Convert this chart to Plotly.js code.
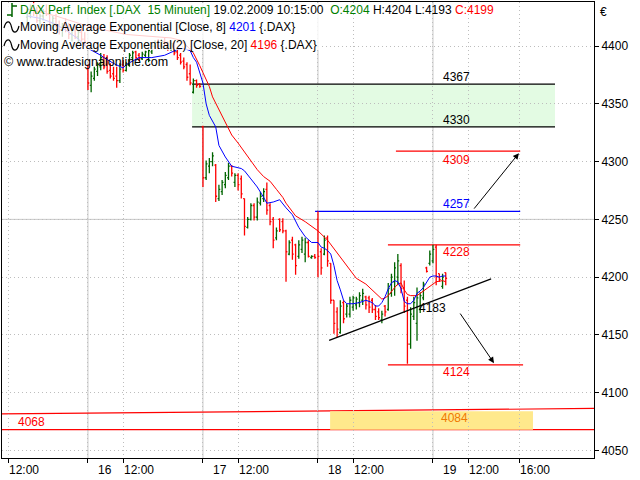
<!DOCTYPE html>
<html><head><meta charset="utf-8">
<script src="https://cdn.plot.ly/plotly-3.0.1.min.js"></script>
<style>html,body{margin:0;padding:0;background:#fff;}#chart{width:640px;height:480px;}</style>
</head><body><div id="chart"></div>
<script>
// ---- DATA: DAX Perf. Index, 15-minute bars, 13.02.2009 13:30 ... 19.02.2009 10:15 ----
const barOpen = [
 4425,4428,4432,4430,4422,4426,4430,4428,4420,4424,4418,4414,4418,4416,4410,4414,4408,4412,4406,
 4380,4366,4372,4378,4382,4390,4384,4379,4376,4374,4370,4384,4379,4384,4390,4395,4392,4389,4392,4390,4395,4400,4403,4400,4404,4402,4398,4402,4395,4392,4387,4384,4376,4360,4370,4367,
 4330,4286,4296,4300,4297,4268,4274,4280,4286,4296,4282,4288,4285,4268,4243,4250,4262,4252,4264,4268,4276,4262,4250,4234,4250,4248,4240,4220,4232,4228,4218,4224,4220,4230,4217,4218,
 4250,4222,4220,4234,4212,4180,4170,4152,4178,4168,4168,4174,4176,4178,4180,4183,4182,4180,4172,4170,4163,4175,4172,4186,4196,4200,4210,4191,4180,4142,4166,4160,4172,4182,4208,4212,
 4214,4226,4203,4192,4204];
const barHigh = [
 4432,4436,4438,4434,4428,4432,4436,4430,4426,4428,4422,4420,4424,4420,4416,4418,4414,4416,4412,
 4384,4378,4382,4386,4394,4393,4392,4385,4382,4382,4385,4388,4386,4394,4396,4396,4394,4395,4396,4398,4402,4405,4406,4406,4407,4404,4404,4404,4398,4394,4390,4386,4384,4372,4371,4368,
 4331,4301,4303,4308,4298,4280,4284,4291,4299,4297,4290,4290,4288,4268,4252,4264,4264,4269,4274,4277,4282,4264,4252,4243,4251,4251,4241,4232,4235,4229,4232,4235,4234,4232,4219,4220,
 4257,4225,4236,4236,4212,4180,4174,4180,4180,4177,4183,4184,4183,4187,4190,4184,4184,4182,4176,4173,4171,4176,4195,4203,4213,4220,4212,4197,4183,4174,4183,4191,4187,4196,4209,4223,
 4228,4228,4203,4203,4204];
const barLow = [
 4418,4424,4426,4420,4416,4422,4426,4418,4414,4416,4410,4408,4412,4406,4404,4406,4402,4404,4400,
 4362,4360,4370,4374,4379,4380,4376,4372,4370,4364,4368,4377,4378,4382,4388,4389,4387,4388,4390,4386,4393,4398,4398,4399,4400,4396,4396,4392,4388,4384,4380,4370,4366,4359,4364,4364,
 4278,4284,4290,4296,4265,4266,4271,4277,4284,4287,4278,4275,4268,4236,4242,4249,4249,4249,4262,4265,4254,4245,4225,4232,4239,4238,4196,4219,4215,4202,4216,4221,4213,4217,4216,4216,
 4200,4202,4219,4209,4177,4151,4148,4151,4160,4165,4165,4171,4172,4174,4176,4172,4169,4169,4163,4163,4160,4166,4171,4183,4184,4193,4186,4169,4125,4138,4163,4145,4169,4180,4204,4210,
 4212,4193,4196,4190,4193];
const barClose = [
 4428,4432,4430,4422,4426,4430,4428,4420,4424,4418,4414,4418,4416,4410,4414,4408,4412,4406,4404,
 4368,4374,4380,4384,4390,4382,4378,4374,4372,4370,4380,4379,4384,4392,4394,4390,4389,4393,4395,4396,4400,4403,4400,4404,4402,4398,4402,4394,4390,4386,4382,4373,4368,4370,4366,4365,
 4286,4298,4300,4305,4270,4276,4282,4288,4296,4290,4288,4280,4272,4244,4250,4262,4252,4265,4270,4274,4258,4248,4232,4240,4241,4240,4222,4230,4220,4210,4228,4232,4230,4218,4218,4217,
 4218,4208,4232,4214,4180,4160,4155,4175,4164,4175,4180,4182,4181,4184,4186,4176,4174,4172,4166,4165,4168,4170,4190,4200,4208,4214,4190,4175,4142,4168,4178,4182,4184,4194,4205,4220,
 4224,4200,4198,4200,4199];
// EMA values at given bar numbers
const ema8Bar = [0,4,8,12,16,19,23,24,27,30,31,35,39,43,47,49,51,52,53,54,55,56,57,59,60,62,64,67,68,70,72,74,75,77,79,81,83,85,87,89,91,92,93,94,95,96,97,98,99,100,102,104,106,108,109,110,111,112,113,114,115,116,117,118,119,120,121,122,123,124,125,126,127,128,129,130,131];
const ema8Val = [4426,4424,4420,4414,4406,4398,4392,4390,4385,4381,4384,4390,4390,4392,4397,4398,4396,4390,4386,4377,4368,4350,4340,4330,4314,4304,4296,4294,4292,4285,4278,4269,4264,4265,4267,4260,4254,4243,4235,4230,4230,4226,4225,4223,4220,4210,4197,4189,4180,4177,4177,4178,4180,4178,4175,4175,4178,4183,4190,4195,4197,4196,4190,4179,4177,4177,4180,4186,4188,4191,4196,4200,4201,4201,4200,4201,4201];
const ema20Bar = [0,9,18,24,31,39,45,48,50,52,53,54,55,57,58,60,62,64,66,69,72,74,76,78,80,81,84,87,90,91,94,97,100,103,106,109,111,112,113,115,116,117,118,119,120,122,124,126,128,130,131];
const ema20Val = [4432,4426,4418,4414,4410,4408,4407,4405,4400,4394,4389,4383,4377,4365,4356,4345,4334,4323,4316,4305,4293,4287,4283,4276,4269,4264,4253,4248,4242,4240,4232,4221,4209,4199,4194,4186,4181,4182,4184,4191,4194,4195,4189,4185,4184,4184,4188,4192,4196,4197,4196];
// x-axis ticks (bar numbers) and labels
const tickBar  = [-6,19,30,55,66,91,102,127,138,154];
const tickText = ['12:00','16','12:00','17','12:00','18','12:00','19','12:00','16:00'];
const dayBars = [19,55,91,127];
// drawing-tool levels
const zoneTop = 4367, zoneBottom = 4330;
const targetUp = 4309, resist = 4257, highLvl = 4228, trendLvl = 4183, targetDn = 4124;
const supportLow = 4068, supportHigh = 4084;
const trendStart = [94.5, 4145.3], trendEnd = [145.2, 4198.5];
const slopeLine = [4081.6, 4086.4];
const yTicks = [4050,4100,4150,4200,4250,4300,4350,4400];

const X0 = -7.9, X1 = 177.4, Y0 = 4043.5, Y1 = 4438.1;
const PL = 2, PT = 2, PW = 592, PH = 456;
const px = p => (p - PL) / PW, py = p => (PT + PH - p) / PH;
const GREEN = '#006400', RED = '#FF0000', BLUE = '#0000FF';
const FONT = 'Liberation Sans, Arial, sans-serif';

const barNo = barOpen.map((_, i) => i);
const last = barOpen.length - 1;

const traces = [
 {type:'ohlc', x:barNo, open:barOpen, high:barHigh, low:barLow, close:barClose,
  increasing:{line:{color:GREEN, width:1.3}}, decreasing:{line:{color:RED, width:1.3}},
  tickwidth:0.42, hoverinfo:'skip', showlegend:false},
 {type:'scatter', mode:'lines', x:ema20Bar, y:ema20Val, line:{color:RED, width:1}, hoverinfo:'skip'},
 {type:'scatter', mode:'lines', x:ema8Bar, y:ema8Val, line:{color:BLUE, width:1}, hoverinfo:'skip'}
];

const wave = y => `M ${px(4)} ${py(y+1)} C ${px(6)} ${py(y-7)} ${px(10)} ${py(y-7)} ${px(11.5)} ${py(y)} S ${px(17)} ${py(y+7)} ${px(19)} ${py(y-1)}`;
const hl = (x0, x1, y, color, w, layer) => ({type:'line', xref:'x', yref:'y', x0, x1, y0:y, y1:y, line:{color, width:w}, layer:layer||'between'});
const shapes = [
 {type:'rect', xref:'x', yref:'y', x0:51.6, x1:165.2, y0:zoneBottom, y1:zoneTop, fillcolor:'#E3FBE3', line:{width:0}, layer:'below'},
 {type:'rect', xref:'x', yref:'y', x0:94.8, x1:158.3, y0:supportLow, y1:supportHigh, fillcolor:'#FFE98C', line:{width:0}, layer:'below'},
 ...dayBars.map(d => ({type:'line', xref:'x', yref:'paper', x0:d, x1:d, y0:0, y1:1, line:{color:'#C8C8C8', width:1}, layer:'below'})),
 {type:'line', xref:'paper', yref:'y', x0:0, x1:1, y0:4250, y1:4250, line:{color:'#C8C8C8', width:1}, layer:'below'},
 hl(51.6, 165.2, zoneTop, '#000', 1.2),
 hl(51.6, 165.2, zoneBottom, '#000', 1.2),
 hl(115.4, 154.3, targetUp, RED, 1.2),
 hl(90.1, 154.3, resist, BLUE, 1.2),
 hl(112.9, 154.3, highLvl, RED, 1.2),
 hl(112.9, 155.2, targetDn, RED, 1.2),
 {type:'line', xref:'x', yref:'y', x0:trendStart[0], y0:trendStart[1], x1:trendEnd[0], y1:trendEnd[1], line:{color:'#000', width:1.2}, layer:'above'},
 {type:'line', xref:'paper', yref:'y', x0:0, x1:1, y0:supportLow, y1:supportLow, line:{color:RED, width:1.2}, layer:'between'},
 {type:'line', xref:'paper', yref:'y', x0:0, x1:1, y0:slopeLine[0], y1:slopeLine[1], line:{color:RED, width:1.2}, layer:'between'},
 // translucent legend backdrop
 {type:'rect', xref:'paper', yref:'paper', x0:px(3), x1:px(322), y0:py(50), y1:py(3), fillcolor:'rgba(255,255,255,0.8)', line:{width:0}, layer:'above'},
 // bar icon of the first legend line and wave icons of the average lines
 {type:'path', xref:'paper', yref:'paper', path:`M ${px(7)} ${py(15)} L ${px(12)} ${py(15)} M ${px(12)} ${py(3)} L ${px(12)} ${py(17)} M ${px(12)} ${py(6)} L ${px(17)} ${py(6)}`, line:{color:GREEN, width:1.5}, layer:'above'},
 {type:'path', xref:'paper', yref:'paper', path:wave(27), line:{color:'#000', width:1.2}, layer:'above'},
 {type:'path', xref:'paper', yref:'paper', path:wave(45), line:{color:'#000', width:1.2}, layer:'above'}
];

const lab = (x, y, text, color, yshift) => ({xref:'x', yref:'y', x, y, text, showarrow:false, xanchor:'center', yanchor:'middle', yshift, font:{family:FONT, size:12, color}});
const annotations = [
 lab(134.5, zoneTop, String(zoneTop), '#000', 7),
 lab(134.5, zoneBottom, String(zoneBottom), '#000', 7),
 lab(134.5, targetUp, String(targetUp), RED, -9),
 lab(134.5, resist, String(resist), BLUE, 7),
 lab(134.5, highLvl, String(highLvl), RED, -7.5),
 lab(126.7, trendLvl, String(trendLvl), '#000', -11.5),
 lab(134.5, targetDn, String(targetDn), RED, -7),
 lab(133.6, supportHigh, String(supportHigh), '#F07800', -7),
 lab(1.2, supportLow, String(supportLow), RED, 8),
 {xref:'x', yref:'y', axref:'x', ayref:'y', x:153.9, y:4307.3, ax:139.5, ay:4258, text:'', showarrow:true, arrowhead:2, arrowsize:1.2, arrowwidth:1, arrowcolor:'#000', standoff:0},
 {xref:'x', yref:'y', axref:'x', ayref:'y', x:146.1, y:4125.6, ax:135.2, ay:4169.8, text:'', showarrow:true, arrowhead:2, arrowsize:1.2, arrowwidth:1, arrowcolor:'#000', standoff:0},
 ...tickBar.map((b, i) => ({xref:'x', yref:'paper', x:b, y:py(470), text:tickText[i], showarrow:false, xanchor:'left', yanchor:'middle',
   xshift:(tickText[i].length < 3 ? 8 : -1), font:{family:FONT, size:12, color:'#000'}})),
 {xref:'paper', yref:'paper', x:px(598), y:py(12), text:'€', showarrow:false, xanchor:'left', yanchor:'middle', font:{family:FONT, size:12, color:'#000'}},
 {xref:'paper', yref:'paper', x:px(18), y:py(10), xanchor:'left', yanchor:'middle', showarrow:false, font:{family:FONT, size:12, color:'#000'},
  text:`<span style="color:#008000">DAX Perf. Index [.DAX\u00A0\u00A015 Minuten]</span> 19.02.2009 10:15:00\u00A0\u00A0<span style="color:#008000">O:${barOpen[last]}</span> H:${barHigh[last]} L:${barLow[last]} <span style="color:#FF0000">C:${barClose[last]}</span>`},
 {xref:'paper', yref:'paper', x:px(18), y:py(27), xanchor:'left', yanchor:'middle', showarrow:false, font:{family:FONT, size:12, color:'#000'},
  text:`Moving Average Exponential [Close, 8] <span style="color:#0000FF">${ema8Val[ema8Val.length-1]}</span> {.DAX}`},
 {xref:'paper', yref:'paper', x:px(18), y:py(45), xanchor:'left', yanchor:'middle', showarrow:false, font:{family:FONT, size:12, color:'#000'},
  text:`Moving Average Exponential(2) [Close, 20] <span style="color:#FF0000">${ema20Val[ema20Val.length-1]}</span> {.DAX}`},
 {xref:'paper', yref:'paper', x:px(2), y:py(62), xanchor:'left', yanchor:'middle', showarrow:false, font:{family:FONT, size:12.5, color:'#000'},
  text:'© www.tradesignalonline.com'}
];

const layout = {
 width:640, height:480, margin:{l:PL, r:640-PL-PW, t:PT, b:480-PT-PH},
 paper_bgcolor:'#FFFFFF', plot_bgcolor:'#FFFFFF', showlegend:false,
 font:{family:FONT, size:12, color:'#000'},
 xaxis:{type:'linear', range:[X0, X1], tickvals:tickBar, ticktext:tickText, showticklabels:false,
  ticks:'outside', ticklen:4, tickcolor:'#000', showgrid:true, gridcolor:'#BDBDBD', griddash:'1px,3px', gridwidth:1,
  showline:true, linecolor:'#000', linewidth:1, mirror:true, zeroline:false, rangeslider:{visible:false}, fixedrange:true},
 yaxis:{side:'right', range:[Y0, Y1], tickvals:yTicks, ticks:'outside', ticklen:4, tickcolor:'#000',
  showgrid:true, gridcolor:'#BDBDBD', griddash:'1px,3px', gridwidth:1,
  showline:true, linecolor:'#000', linewidth:1, mirror:true, zeroline:false, tickfont:{family:FONT, size:12, color:'#000'}, fixedrange:true},
 shapes, annotations
};
Plotly.newPlot('chart', traces, layout, {staticPlot:true, displayModeBar:false});
</script></body></html>
